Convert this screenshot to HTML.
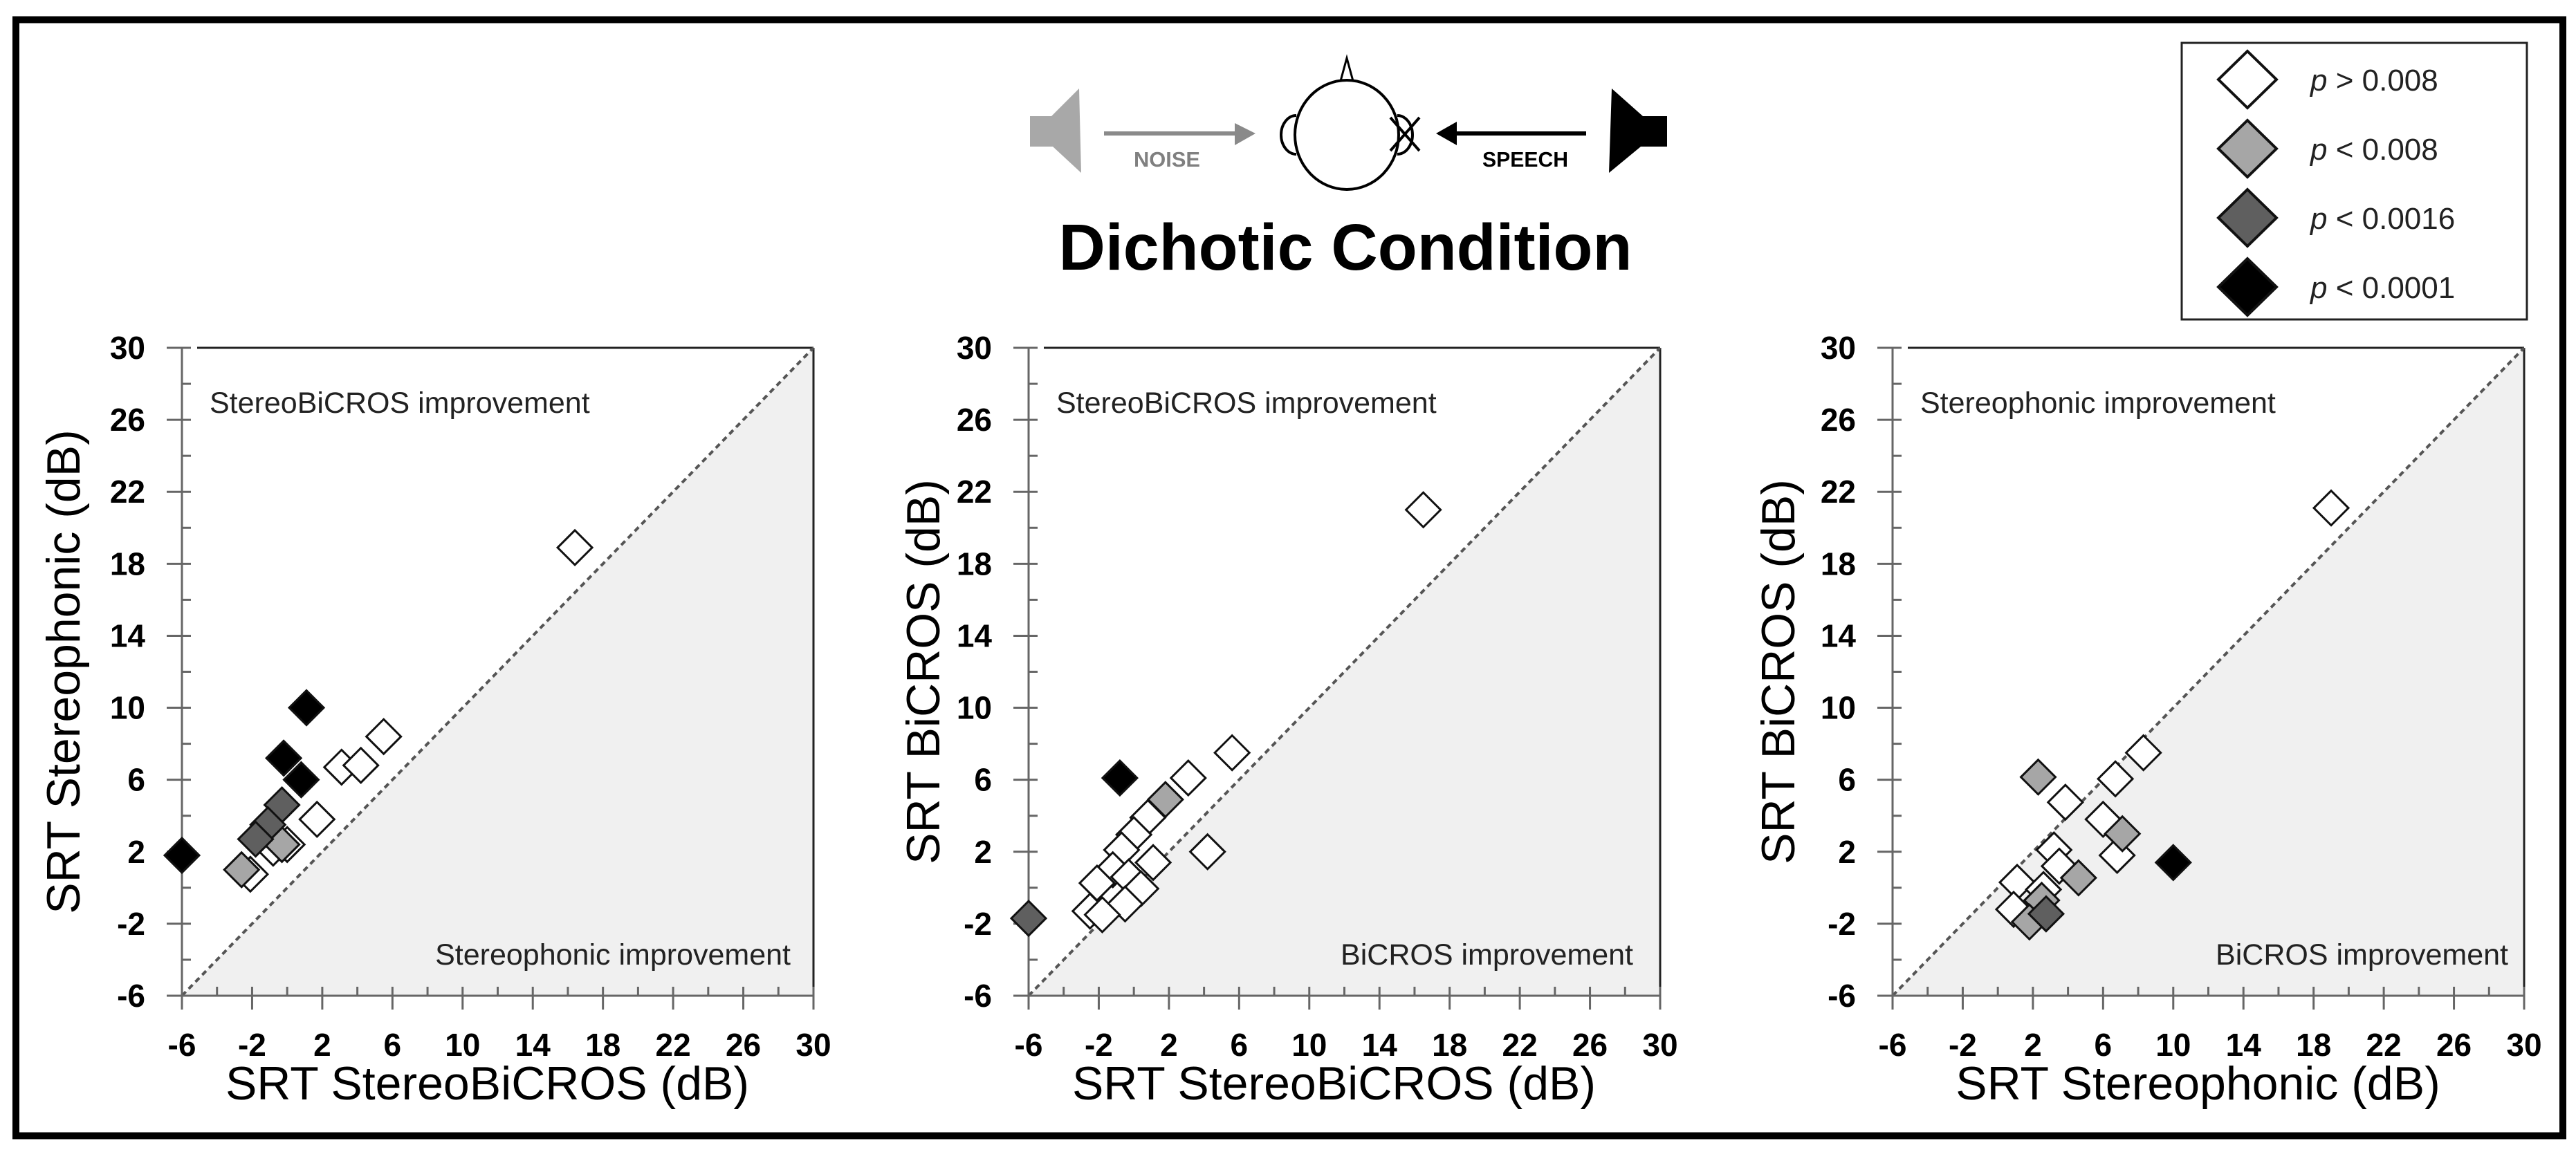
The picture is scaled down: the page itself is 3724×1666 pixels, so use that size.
<!DOCTYPE html>
<html><head><meta charset="utf-8"><style>
html,body{margin:0;padding:0;background:#fff;}
svg{display:block;font-family:"Liberation Sans",sans-serif;}
</style></head><body>
<svg id="fig" width="3724" height="1666" viewBox="0 0 3724 1666">
<rect x="0" y="0" width="3724" height="1666" fill="#fff"/>
<rect x="23" y="28.5" width="3682" height="1614" fill="none" stroke="#000" stroke-width="10"/>
<g>
  <path d="M1489,168 L1520,168 L1560,128 L1563,250 L1522,212 L1489,212 Z" fill="#a8a8a8"/>
  <line x1="1596" y1="193" x2="1790" y2="193" stroke="#8a8a8a" stroke-width="6"/>
  <path d="M1785,178 L1815,193 L1785,210 Z" fill="#8a8a8a"/>
  <text x="1639" y="241" font-size="31" font-weight="bold" fill="#808080" textLength="96" lengthAdjust="spacingAndGlyphs">NOISE</text>
  <path d="M1938,117 L1947,84 L1956,117" fill="none" stroke="#000" stroke-width="3"/>
  <ellipse cx="1947" cy="195" rx="75" ry="79" fill="#fff" stroke="#000" stroke-width="4"/>
  <path d="M1874,167 A22,28 0 0 0 1874,223" fill="none" stroke="#000" stroke-width="4"/>
  <path d="M2020,167 A22,28 0 0 1 2020,223" fill="none" stroke="#000" stroke-width="4"/>
  <line x1="2010" y1="170" x2="2052" y2="218" stroke="#000" stroke-width="4"/>
  <line x1="2052" y1="170" x2="2010" y2="218" stroke="#000" stroke-width="4"/>
  <line x1="2100" y1="193" x2="2293" y2="193" stroke="#000" stroke-width="6"/>
  <path d="M2106,176 L2076,193 L2106,210 Z" fill="#000"/>
  <text x="2143" y="241" font-size="31" font-weight="bold" fill="#000" textLength="124" lengthAdjust="spacingAndGlyphs">SPEECH</text>
  <path d="M2410,168 L2375,168 L2330,128 L2326,250 L2372,212 L2410,212 Z" fill="#000"/>
</g>
<text x="1945" y="390" font-size="95" font-weight="bold" text-anchor="middle" textLength="829" lengthAdjust="spacingAndGlyphs">Dichotic Condition</text>
<g id="legend">
  <rect x="3154" y="62" width="499" height="400" fill="#fff" stroke="#222" stroke-width="3"/>
</g>
<g id="panels"></g>
</svg>
<script>
// Panel 1: StereoBiCROS (x) vs Stereophonic (y)
const p1X = [16.4, -6, 1.1, -0.2, 0.8, -0.3, -1.1, -1.8, -2.6, -2.1, -0.8, -0.3, 0.0, 1.7, 3.1, 4.2, 5.5];
const p1Y = [18.9, 1.8, 10.0, 7.2, 6.0, 4.6, 3.5, 2.7, 1.0, 0.75, 2.2, 2.4, 2.4, 3.8, 6.7, 6.8, 8.4];
const p1G = [0, 3, 3, 3, 3, 2, 2, 2, 1, 0, 0, 1, 0, 0, 0, 0, 0];
// Panel 2: StereoBiCROS (x) vs BiCROS (y)
const p2X = [16.5, -6, -0.8, 1.8, 3.1, 5.6, 4.2, 0.8, 0.0, -0.7, 1.1, -1.2, -0.3, -2.1, 0.4, -0.5, -2.5, -1.8];
const p2Y = [21.0, -1.7, 6.1, 4.9, 6.1, 7.5, 2.0, 3.9, 2.95, 2.1, 1.4, 1.0, 0.6, 0.26, -0.05, -0.9, -1.3, -1.5];
const p2G = [0, 2, 3, 1, 0, 0, 0, 0, 0, 0, 0, 0, 0, 0, 0, 0, 0, 0];
// Panel 3: Stereophonic (x) vs BiCROS (y)
const p3X = [19.0, 2.3, 3.85, 6.7, 8.3, 6.0, 7.1, 6.8, 10.0, 3.2, 3.5, 4.6, 1.1, 2.6, 2.5, 0.9, 1.8, 2.75];
const p3Y = [21.1, 6.15, 4.75, 6.05, 7.5, 3.8, 3.0, 1.8, 1.4, 2.1, 1.2, 0.55, 0.3, -0.1, -0.7, -1.2, -1.9, -1.45];
const p3G = [0, 1, 0, 0, 0, 0, 1, 0, 3, 0, 0, 1, 0, 0, 1, 0, 1, 2];
const ticks = [-6, -2, 2, 6, 10, 14, 18, 22, 26, 30];
const legendLabels = ["> 0.008", "< 0.008", "< 0.0016", "< 0.0001"];
const fills = ["#ffffff", "#a6a6a6", "#5f5f5f", "#000000"];

const NS = "http://www.w3.org/2000/svg";
function mk(tag, attrs, parent) {
  const e = document.createElementNS(NS, tag);
  for (const k in attrs) e.setAttribute(k, attrs[k]);
  parent.appendChild(e);
  return e;
}
const root = document.getElementById('panels');
const panels = [
  {x0: 263, xs: p1X, ys: p1Y, gs: p1G, xt: "SRT StereoBiCROS (dB)", yt: "SRT Stereophonic (dB)", ytx: -171, tl: "StereoBiCROS improvement", br: "Stereophonic improvement", brOff: -33},
  {x0: 1487, xs: p2X, ys: p2Y, gs: p2G, xt: "SRT StereoBiCROS (dB)", yt: "SRT BiCROS (dB)", ytx: -152, tl: "StereoBiCROS improvement", br: "BiCROS improvement", brOff: -39},
  {x0: 2736, xs: p3X, ys: p3Y, gs: p3G, xt: "SRT Stereophonic (dB)", yt: "SRT BiCROS (dB)", ytx: -165, tl: "Stereophonic improvement", br: "BiCROS improvement", brOff: -23}
];
const W = 913, Y0 = 503, Y1 = 1440;
panels.forEach((p, pi) => {
  const sx = v => p.x0 + (v + 6) / 36 * W;
  const sy = v => Y1 - (v + 6) / 36 * (Y1 - Y0);
  const g = mk('g', {}, root);
  
  
  const shade = mk('path', {d: `M${sx(-6)},${sy(-6)} L${sx(30)},${sy(30)} L${sx(30)},${sy(-6)} Z`, fill: '#f0f0f0'}, g);
  
  
  mk('line', {x1: sx(-6) + 22, y1: Y0, x2: sx(30), y2: Y0, stroke: '#222', 'stroke-width': 3}, g);
  mk('line', {x1: sx(30), y1: Y0, x2: sx(30), y2: Y1, stroke: '#222', 'stroke-width': 3}, g);
  const diag = mk('line', {x1: sx(-6), y1: sy(-6), x2: sx(30), y2: sy(30), stroke: '#555', 'stroke-width': 4, 'stroke-dasharray': '8 6'}, g);
  
  
  const xa = mk('line', {x1: sx(-6) - 22, y1: Y1, x2: sx(30), y2: Y1, stroke: '#666', 'stroke-width': 3}, g);
  
  
  const ya = mk('line', {x1: sx(-6), y1: Y0, x2: sx(-6), y2: Y1 + 20, stroke: '#666', 'stroke-width': 3}, g);
  
  
  for (let v = -4; v <= 28; v += 4) {
    mk('line', {x1: sx(v), y1: Y1 - 13, x2: sx(v), y2: Y1, stroke: '#666', 'stroke-width': 3}, g);
    mk('line', {x1: sx(-6), y1: sy(v), x2: sx(-6) + 13, y2: sy(v), stroke: '#666', 'stroke-width': 3}, g);
  }
  ticks.forEach(t => {
    mk('line', {x1: sx(t), y1: Y1 - 13, x2: sx(t), y2: Y1 + 20, stroke: '#666', 'stroke-width': 3}, g);
    mk('line', {x1: sx(-6) - 22, y1: sy(t), x2: sx(-6) + 13, y2: sy(t), stroke: '#666', 'stroke-width': 3}, g);
    const xl = mk('text', {x: sx(t), y: 1527, 'font-size': 46, 'font-weight': 'bold', 'text-anchor': 'middle'}, g);
    xl.textContent = t;
    
    
    const yl = mk('text', {x: sx(-6) - 53, y: sy(t) + 16, 'font-size': 46, 'font-weight': 'bold', 'text-anchor': 'end'}, g);
    yl.textContent = t;
    
    
  });
  const xt = mk('text', {x: sx(12) - 15, y: 1590, 'font-size': 68, 'text-anchor': 'middle'}, g);
  xt.textContent = p.xt;
  
  
  const ycx = sx(-6) + p.ytx, ycy = (Y0 + Y1) / 2;
  const yt = mk('text', {x: ycx, y: ycy, 'font-size': 68, 'text-anchor': 'middle', transform: `rotate(-90 ${ycx} ${ycy})`, 'dominant-baseline': 'central'}, g);
  yt.textContent = p.yt;
  
  
  const a1 = mk('text', {x: sx(-6) + 40, y: 597, 'font-size': 43, fill: '#222'}, g);
  a1.textContent = p.tl;
  
  
  const a2 = mk('text', {x: sx(30) + p.brOff, y: 1395, 'font-size': 43, fill: '#222', 'text-anchor': 'end'}, g);
  a2.textContent = p.br;
  
  
  const order = p.xs.map((_, i) => i).sort((a, b) => p.gs[a] - p.gs[b]);
  order.forEach(i => {
    const cx = sx(p.xs[i]), cy = sy(p.ys[i]), r = 25;
    const d = mk('path', {d: `M${cx},${cy - r} L${cx + r},${cy} L${cx},${cy + r} L${cx - r},${cy} Z`, fill: fills[p.gs[i]], stroke: '#111', 'stroke-width': 3}, g);
    
    
  });
});
const lg = document.getElementById('legend');
legendLabels.forEach((lab, i) => {
  const cy = 115 + i * 100, cx = 3249;
  const d = mk('path', {d: `M${cx},${cy - 41} L${cx + 42},${cy} L${cx},${cy + 41} L${cx - 42},${cy} Z`, fill: fills[i], stroke: '#111', 'stroke-width': 4}, lg);
  
  
  const t = mk('text', {x: 3340, y: cy + 16, 'font-size': 44, fill: '#222'}, lg);
  t.innerHTML = '<tspan font-style="italic">p</tspan> ' + lab.replace('<', '&lt;').replace('>', '&gt;');
  
  
});
</script>
</body></html>
